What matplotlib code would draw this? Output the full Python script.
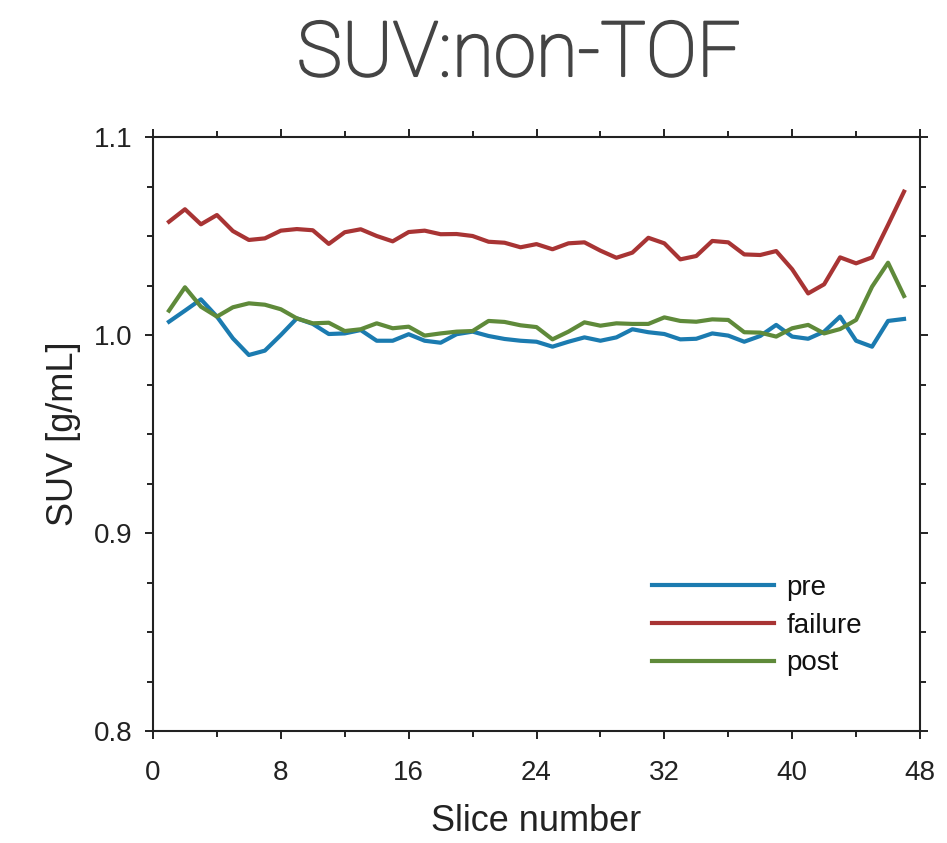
import numpy as np
import matplotlib
matplotlib.use("Agg")
import matplotlib.pyplot as plt
import matplotlib.patheffects as pe
from matplotlib.ticker import MultipleLocator, FormatStrFormatter

slices = list(range(1, 48))
pre = [1.0067, 1.0123, 1.0180, 1.0093, 0.9983, 0.9899, 0.9921, 1.0000, 1.0084, 1.0056,
       1.0005, 1.0008, 1.0025, 0.9971, 0.9971, 1.0004, 0.9971, 0.9961, 1.0004, 1.0017,
       0.9995, 0.9980, 0.9971, 0.9966, 0.9941, 0.9966, 0.9988, 0.9971, 0.9988, 1.0029,
       1.0014, 1.0005, 0.9978, 0.9981, 1.0008, 0.9997, 0.9966, 0.9995, 1.0051, 0.9992,
       0.9981, 1.0017, 1.0093, 0.9971, 0.9941, 1.0071, 1.0081]
failure = [1.0572, 1.0635, 1.0559, 1.0606, 1.0525, 1.0480, 1.0488, 1.0527, 1.0535, 1.0529,
           1.0460, 1.0519, 1.0534, 1.0500, 1.0473, 1.0520, 1.0527, 1.0509, 1.0510, 1.0500,
           1.0471, 1.0466, 1.0443, 1.0459, 1.0433, 1.0463, 1.0468, 1.0426, 1.0390, 1.0416,
           1.0491, 1.0463, 1.0382, 1.0399, 1.0475, 1.0468, 1.0407, 1.0404, 1.0424, 1.0332,
           1.0210, 1.0256, 1.0392, 1.0362, 1.0392, 1.0556, 1.0724]
post = [1.0123, 1.0241, 1.0143, 1.0093, 1.0140, 1.0160, 1.0153, 1.0130, 1.0084, 1.0059,
        1.0062, 1.0020, 1.0029, 1.0059, 1.0034, 1.0042, 0.9997, 1.0008, 1.0017, 1.0020,
        1.0071, 1.0066, 1.0049, 1.0040, 0.9978, 1.0017, 1.0064, 1.0047, 1.0059, 1.0056,
        1.0056, 1.0089, 1.0071, 1.0067, 1.0079, 1.0076, 1.0014, 1.0012, 0.9992, 1.0034,
        1.0051, 1.0008, 1.0030, 1.0076, 1.0244, 1.0365, 1.0197]

series_names = ["pre", "failure", "post"]
series_colors = ["#1b7bb0", "#a83434", "#5f8a3a"]

plt.rcParams['font.family'] = ['Liberation Sans', 'DejaVu Sans']

fig = plt.figure(figsize=(9.47, 8.43), dpi=100)
ax = fig.add_axes([153/947, 1 - 731/843, (920-153)/947, (731-137)/843])

for name, vals, c in zip(series_names, [pre, failure, post], series_colors):
    ax.plot(slices, vals, color=c, lw=3.0, label=name)

ax.set_xlim(0, 48)
ax.set_ylim(0.8, 1.1)
ax.xaxis.set_major_locator(MultipleLocator(8))
ax.xaxis.set_minor_locator(MultipleLocator(4))
ax.yaxis.set_major_locator(MultipleLocator(0.1))
ax.yaxis.set_minor_locator(MultipleLocator(0.025))
ax.yaxis.set_major_formatter(FormatStrFormatter("%.1f"))

for s in ax.spines.values():
    s.set_linewidth(1.5)
    s.set_color("#222222")
ax.tick_params(which="both", direction="out", top=True, right=True,
               labeltop=False, labelright=False, color="#222222", width=1.4,
               labelcolor="#222222")
ax.tick_params(which="major", length=6, labelsize=20)
ax.tick_params(which="minor", length=4.5)
ax.tick_params(axis="x", which="major", pad=15)
ax.tick_params(axis="y", which="major", pad=9)

ax.set_xlabel("Slice number", fontsize=26, labelpad=13, color="#222222")
ax.set_ylabel("SUV [g/mL]", fontsize=26, labelpad=9, color="#222222")

fig.text(0.5475, 1 - 76/843, "SUV:non-TOF", fontsize=55, color="#444444",
         ha="center", va="baseline", family=["Roboto", "Liberation Sans"], weight="light",
         path_effects=[pe.withStroke(linewidth=1.5, foreground="#444444")])

leg = ax.legend(loc="lower right", bbox_to_anchor=(0.957, 0.05), frameon=False,
                fontsize=20, handlelength=4.4, labelspacing=0.42, handletextpad=0.45)
for t in leg.get_texts():
    t.set_color("#111111")

fig.savefig("out.png", dpi=100)
